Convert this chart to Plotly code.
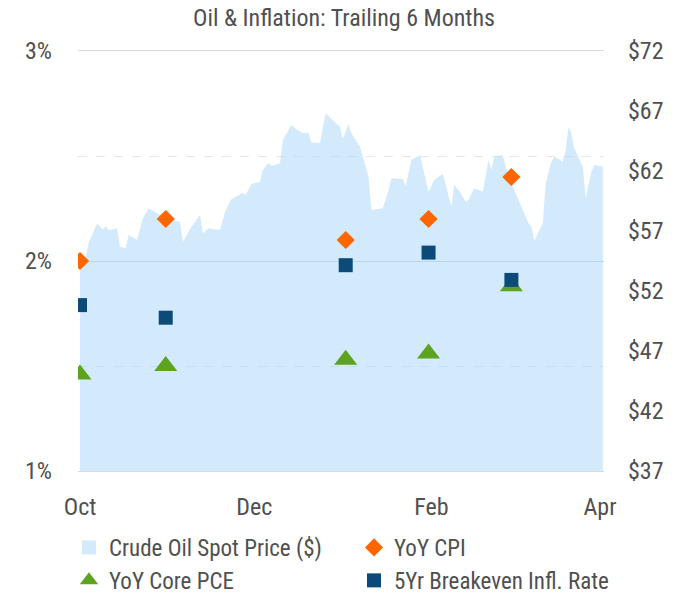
import plotly.graph_objects as go

# ---------------- data ----------------
oil_dates = [
    "2017-10-01", "2017-10-03", "2017-10-04", "2017-10-07", "2017-10-09", "2017-10-10",
    "2017-10-11", "2017-10-14", "2017-10-15", "2017-10-17", "2017-10-18", "2017-10-21",
    "2017-10-23", "2017-10-25", "2017-10-29", "2017-11-01", "2017-11-03", "2017-11-05",
    "2017-11-06", "2017-11-09", "2017-11-12", "2017-11-13", "2017-11-15", "2017-11-19",
    "2017-11-21", "2017-11-23", "2017-11-27", "2017-11-28", "2017-11-30", "2017-12-03",
    "2017-12-04", "2017-12-06", "2017-12-07", "2017-12-10", "2017-12-11", "2017-12-14",
    "2017-12-16", "2017-12-18", "2017-12-20", "2017-12-21", "2017-12-24", "2017-12-26",
    "2017-12-29", "2017-12-31", "2018-01-01", "2018-01-03", "2018-01-04", "2018-01-07",
    "2018-01-08", "2018-01-10", "2018-01-11", "2018-01-15", "2018-01-17", "2018-01-18",
    "2018-01-22", "2018-01-23", "2018-01-25", "2018-01-28", "2018-01-31", "2018-02-02",
    "2018-02-05", "2018-02-08", "2018-02-09", "2018-02-11", "2018-02-13", "2018-02-14",
    "2018-02-16", "2018-02-19", "2018-02-21", "2018-02-22", "2018-02-23", "2018-02-26",
    "2018-02-27", "2018-03-02", "2018-03-05", "2018-03-07", "2018-03-08", "2018-03-09",
    "2018-03-12", "2018-03-13", "2018-03-15", "2018-03-16", "2018-03-19", "2018-03-20",
    "2018-03-21", "2018-03-22", "2018-03-23", "2018-03-26", "2018-03-27", "2018-03-29",
    "2018-03-30", "2018-04-02",
]
oil_price = [
    53.75, 54.86, 56.00, 57.64, 57.08, 57.42,
    57.08, 57.22, 55.69, 55.56, 56.67, 56.25,
    58.06, 58.89, 58.33, 58.81, 57.86, 57.78,
    56.11, 57.36, 58.33, 56.81, 57.22, 57.08,
    58.75, 59.64, 60.19, 60.00, 60.92, 61.11,
    62.08, 62.69, 62.42, 62.64, 64.58, 65.83,
    65.42, 65.14, 65.19, 64.36, 64.36, 66.81,
    66.11, 65.69, 64.67, 65.92, 65.14, 64.03,
    63.19, 61.53, 58.75, 58.89, 60.42, 61.39,
    61.33, 60.75, 62.92, 63.33, 60.28, 61.25,
    61.75, 59.03, 60.83, 60.28, 59.44, 59.58,
    60.56, 60.28, 62.92, 62.08, 63.19, 63.33,
    62.36, 60.42, 58.75, 57.64, 57.36, 56.19,
    57.64, 60.97, 62.78, 63.19, 62.78, 63.75,
    65.69, 65.14, 63.89, 62.36, 59.72, 61.94,
    62.50, 62.36,
]

infl_dates = ["2017-10-01", "2017-10-31", "2018-01-02", "2018-01-31", "2018-03-01"]
yoy_cpi = [2.0, 2.2, 2.1, 2.2, 2.4]
yoy_core_pce = [1.46, 1.50, 1.53, 1.56, 1.88]
breakeven_5yr = [1.79, 1.73, 1.98, 2.04, 1.91]

pct_ticks = [1, 2, 3]
pct_labels = ["1%", "2%", "3%"]
usd_ticks = [37, 42, 47, 52, 57, 62, 67, 72]
usd_labels = ["$37", "$42", "$47", "$52", "$57", "$62", "$67", "$72"]
month_ticks = ["2017-10-01", "2017-12-01", "2018-02-01", "2018-04-01"]
month_labels = ["Oct", "Dec", "Feb", "Apr"]

# ---------------- style ----------------
FONT = "Liberation Sans Narrow, Roboto Condensed, DejaVu Sans Condensed, Arial Narrow, sans-serif"
TXT = "#505050"
OIL_FILL = "rgba(167,213,249,0.5)"
OIL_LEG = "#d3eafc"
CPI_C = "#ff6600"
PCE_C = "#5ea31f"
BE_C = "#0c4a78"
FS = 24

fig = go.Figure()

# area (legend handled by a proxy square)
fig.add_trace(go.Scatter(
    x=oil_dates, y=oil_price, yaxis="y", mode="lines",
    line=dict(width=0, color=OIL_FILL), fill="tozeroy", fillcolor=OIL_FILL,
    showlegend=False, hoverinfo="x+y", name="Crude Oil Spot Price ($)",
))
fig.add_trace(go.Scatter(
    x=[None], y=[None], yaxis="y", mode="markers", name="Crude Oil Spot Price ($)",
    marker=dict(symbol="square", size=14, color=OIL_LEG),
))
fig.add_trace(go.Scatter(
    x=infl_dates, y=yoy_cpi, yaxis="y2", mode="markers", name="YoY CPI",
    marker=dict(symbol="diamond", size=14, color=CPI_C),
))
fig.add_trace(go.Scatter(
    x=infl_dates, y=yoy_core_pce, yaxis="y2", mode="markers", name="YoY Core PCE",
    marker=dict(symbol="triangle-up", size=20, color=PCE_C),
))
fig.add_trace(go.Scatter(
    x=infl_dates, y=breakeven_5yr, yaxis="y2", mode="markers", name="5Yr Breakeven Infl. Rate",
    marker=dict(symbol="square", size=14, color=BE_C),
))

fig.update_layout(
    width=688, height=595,
    margin=dict(l=78, r=84, t=51, b=124, autoexpand=False),
    paper_bgcolor="white", plot_bgcolor="white",
    font=dict(family=FONT, size=FS, color=TXT),
    title=dict(text="Oil & Inflation: Trailing 6 Months", x=0.5, xanchor="center",
               xref="container", yref="container",
               y=0.97, yanchor="middle", font=dict(size=FS, color=TXT)),
    xaxis=dict(
        type="date", range=["2017-09-30 07:00", "2018-04-02 10:00"],
        tickvals=month_ticks, ticktext=month_labels, ticks="", ticklabelstandoff=14,
        showgrid=False, zeroline=False, showline=True, mirror=True,
        linecolor="#d9d9d9", linewidth=1, automargin=False,
        tickfont=dict(size=FS, color=TXT),
    ),
    yaxis=dict(
        range=[37, 72], tickvals=usd_ticks, ticktext=usd_labels, side="right",
        showgrid=False, zeroline=False, ticks="", ticklabelstandoff=23,
        automargin=False, tickfont=dict(size=FS, color=TXT),
    ),
    yaxis2=dict(
        range=[1, 3], tickvals=pct_ticks, ticktext=pct_labels, side="left",
        overlaying="y", showgrid=True, gridcolor="#cfd4d8", gridwidth=1,
        zeroline=False, ticks="", ticklabelstandoff=25, automargin=False,
        minor=dict(dtick=0.5, tick0=1, showgrid=True, griddash="dash",
                   gridcolor="#e6e6e6", gridwidth=1),
        tickfont=dict(size=FS, color=TXT),
    ),
    legend=dict(
        orientation="h", xref="paper", yref="paper",
        x=-0.0171, y=-0.131, xanchor="left", yanchor="top",
        entrywidth=240, entrywidthmode="pixels",
        font=dict(size=23, color=TXT), itemwidth=30,
        bgcolor="rgba(0,0,0,0)",
    ),
    showlegend=True,
)

fig.write_html("out.html", config={"displayModeBar": False},
               post_script="document.body.style.margin='0';")
